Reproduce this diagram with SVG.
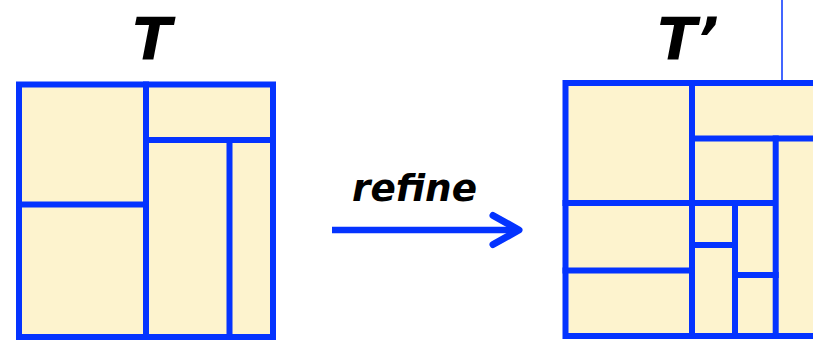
<svg xmlns="http://www.w3.org/2000/svg" width="813" height="340" viewBox="0 0 813 340">
<style>
.cell{fill:#fdf3ce}
.ln{stroke:#0433ff;stroke-width:6;fill:none;stroke-linecap:square}
.lbl{font-family:"DejaVu Sans",sans-serif;font-weight:bold;fill:#000}
</style>
<rect width="813" height="340" fill="#fff"/>
<g id="T">
<rect class="cell" x="19" y="84.5" width="254" height="252.5"/>
<rect class="ln" x="19" y="84.5" width="254" height="252.5"/>
<line class="ln" x1="146" y1="84.5" x2="146" y2="337"/>
<line class="ln" x1="146" y1="140" x2="273" y2="140"/>
<line class="ln" x1="229.5" y1="140" x2="229.5" y2="337"/>
<line class="ln" x1="19" y1="204.5" x2="146" y2="204.5"/>
<text class="lbl" x="152" y="60" font-size="58" text-anchor="middle" font-style="italic">T</text>
</g>
<g id="Tprime">
<rect class="cell" x="565.5" y="83" width="260" height="253"/>
<path class="ln" d="M830 83 H565.5 V336 H830"/>
<line class="ln" x1="692" y1="83" x2="692" y2="336"/>
<line class="ln" x1="692" y1="138.5" x2="830" y2="138.5"/>
<line class="ln" x1="775.7" y1="138.5" x2="775.7" y2="336"/>
<line class="ln" x1="565.5" y1="203" x2="770" y2="203"/>
<line class="ln" x1="735" y1="203" x2="735" y2="336"/>
<line class="ln" x1="692" y1="245" x2="735" y2="245"/>
<line class="ln" x1="735" y1="275" x2="775.7" y2="275"/>
<line class="ln" x1="565.5" y1="270.5" x2="692" y2="270.5"/>
<line x1="782" y1="0" x2="782" y2="83" stroke="#0433ff" stroke-width="1.5"/>
<text class="lbl" x="688" y="60" font-size="58" text-anchor="middle" font-style="italic">T’</text>
</g>
<g id="connectors">
<line x1="332" y1="230" x2="518" y2="230" stroke="#0433ff" stroke-width="6.5"/>
<polyline points="493,215.5 519,230 493,244.5" fill="none" stroke="#0433ff" stroke-width="7" stroke-linecap="round" stroke-linejoin="round"/>
<text class="lbl" x="352" y="201" font-size="38" font-style="italic" textLength="125" lengthAdjust="spacingAndGlyphs">refine</text>
</g>
</svg>
